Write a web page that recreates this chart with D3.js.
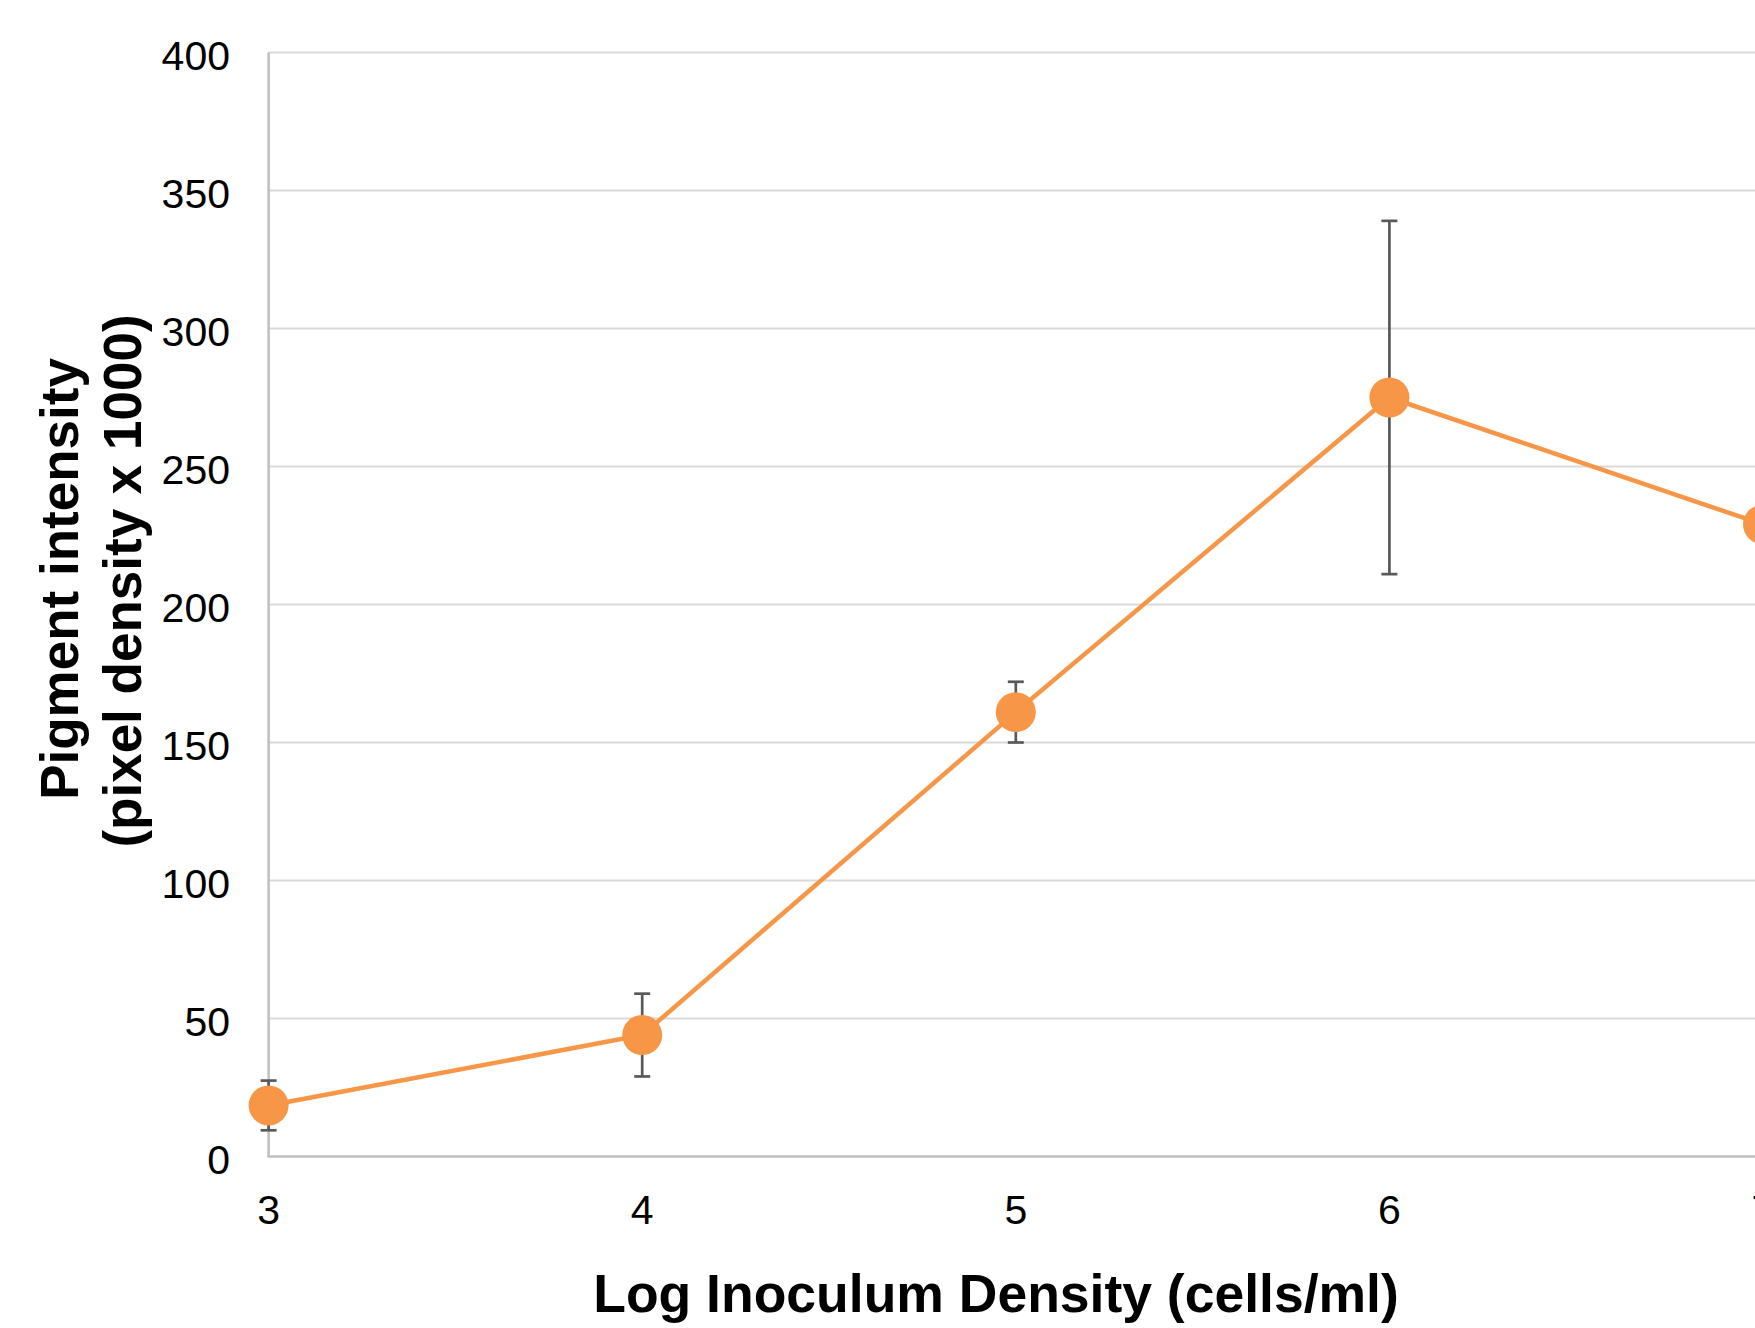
<!DOCTYPE html>
<html>
<head>
<meta charset="utf-8">
<script src="https://cdn.jsdelivr.net/npm/d3@7"></script>
<style>
  body { margin: 0; background: #fff; }
  svg { display: block; font-family: "Liberation Sans", Arial, sans-serif; }
</style>
</head>
<body>
<div id="chart"></div>
<script>
// Data
var logDensity = [3, 4, 5, 6, 7];
var pigment = [18.5, 44, 161, 275, 229];
var pigmentErr = [9, 15, 11, 64, null]; // last one is off the picture
var yTicks = [0, 50, 100, 150, 200, 250, 300, 350, 400];
var xTicks = [3, 4, 5, 6, 7];

var width = 1755, height = 1328;

var svg = d3.select("#chart").append("svg")
    .attr("width", width)
    .attr("height", height);

// Scales (the plot runs past the right edge, so 7 sits just off-canvas)
var x = d3.scaleLinear().domain([3, 7]).range([268.6, 1763]);
var y = d3.scaleLinear().domain([0, 400]).range([1156.5, 52.5]);

// Gridlines
svg.append("g").selectAll("line")
    .data(yTicks.filter(function (d) { return d > 0; }))
    .enter().append("line")
    .attr("x1", x(3)).attr("x2", width)
    .attr("y1", function (d) { return y(d); })
    .attr("y2", function (d) { return y(d); })
    .attr("stroke", "#d9d9d9")
    .attr("stroke-width", 2);

// Axis lines
svg.append("line")
    .attr("x1", x(3)).attr("x2", x(3))
    .attr("y1", y(400)).attr("y2", y(0))
    .attr("stroke", "#bfbfbf").attr("stroke-width", 2.5);
svg.append("line")
    .attr("x1", x(3) - 1.25).attr("x2", width)
    .attr("y1", y(0)).attr("y2", y(0))
    .attr("stroke", "#bfbfbf").attr("stroke-width", 2.5);

// Tick labels
svg.append("g").selectAll("text")
    .data(yTicks)
    .enter().append("text")
    .attr("x", 230)
    .attr("y", function (d) { return y(d) + 17; })
    .attr("text-anchor", "end")
    .attr("font-size", 41)
    .attr("fill", "#000")
    .text(function (d) { return d; });

svg.append("g").selectAll("text")
    .data(xTicks)
    .enter().append("text")
    .attr("x", function (d) { return x(d); })
    .attr("y", 1224)
    .attr("text-anchor", "middle")
    .attr("font-size", 41)
    .attr("fill", "#000")
    .text(function (d) { return d; });

// Axis titles
svg.append("text")
    .attr("x", 996)
    .attr("y", 1312)
    .attr("text-anchor", "middle")
    .attr("font-size", 53.5)
    .attr("font-weight", "bold")
    .text("Log Inoculum Density (cells/ml)");

var yTitle = svg.append("g")
    .attr("transform", "rotate(-90)")
    .attr("font-size", 53)
    .attr("font-weight", "bold")
    .attr("text-anchor", "middle");
yTitle.append("text").attr("x", -579).attr("y", 78).text("Pigment intensity");
yTitle.append("text").attr("x", -581).attr("y", 141).text("(pixel density x 1000)");

var pts = logDensity.map(function (d, i) {
    return { x: d, v: pigment[i], e: pigmentErr[i] };
});

// Error bars
var err = svg.append("g")
    .attr("stroke", "#595959")
    .attr("stroke-width", 2.7)
    .selectAll("g")
    .data(pts.filter(function (d) { return d.e != null; }))
    .enter().append("g");
err.append("line")
    .attr("x1", function (d) { return x(d.x); })
    .attr("x2", function (d) { return x(d.x); })
    .attr("y1", function (d) { return y(d.v + d.e); })
    .attr("y2", function (d) { return y(d.v - d.e); });
[1, -1].forEach(function (s) {
    err.append("line")
        .attr("x1", function (d) { return x(d.x) - 8; })
        .attr("x2", function (d) { return x(d.x) + 8; })
        .attr("y1", function (d) { return y(d.v + s * d.e); })
        .attr("y2", function (d) { return y(d.v + s * d.e); });
});

// Series line
var line = d3.line()
    .x(function (d) { return x(d.x); })
    .y(function (d) { return y(d.v); });

svg.append("path")
    .datum(pts)
    .attr("d", line)
    .attr("fill", "none")
    .attr("stroke", "#f79646")
    .attr("stroke-width", 4.5)
    .attr("stroke-linejoin", "round");

// Markers
svg.append("g").selectAll("circle")
    .data(pts)
    .enter().append("circle")
    .attr("cx", function (d) { return x(d.x); })
    .attr("cy", function (d) { return y(d.v); })
    .attr("r", 20)
    .attr("fill", "#f79646");
</script>
</body>
</html>
